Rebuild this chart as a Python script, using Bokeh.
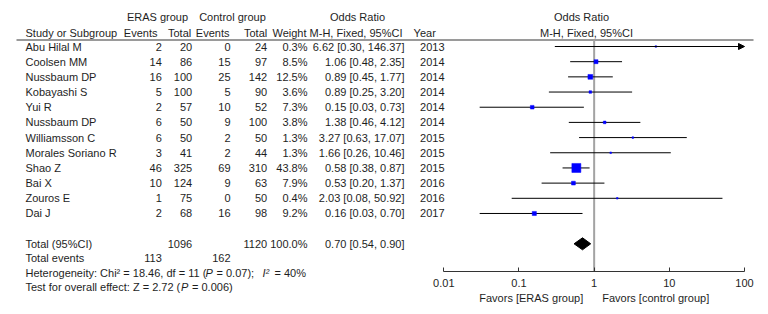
import math
from bokeh.plotting import figure
from bokeh.models import (ColumnDataSource, Range1d, LogScale, LogAxis, FixedTicker,
                          CustomJSTickFormatter, Arrow, NormalHead)
from bokeh.core.properties import value
from bokeh.embed import file_html
from bokeh.resources import INLINE

# ---------------- data ----------------
studies = ["Abu Hilal M", "Coolsen MM", "Nussbaum DP", "Kobayashi S", "Yui R", "Nussbaum DP",
           "Williamsson C", "Morales Soriano R", "Shao Z", "Bai X", "Zouros E", "Dai J"]
eras_events = [2, 14, 16, 5, 2, 6, 6, 3, 46, 10, 1, 2]
eras_total = [20, 86, 100, 100, 57, 50, 50, 41, 325, 124, 75, 68]
ctrl_events = [0, 15, 25, 5, 10, 9, 2, 2, 69, 9, 0, 16]
ctrl_total = [24, 97, 142, 90, 52, 100, 50, 44, 310, 63, 50, 98]
weights = [0.3, 8.5, 12.5, 3.6, 7.3, 3.8, 1.3, 1.3, 43.8, 7.9, 0.4, 9.2]
or_est = [6.62, 1.06, 0.89, 0.89, 0.15, 1.38, 3.27, 1.66, 0.58, 0.53, 2.03, 0.16]
or_lo = [0.30, 0.48, 0.45, 0.25, 0.03, 0.46, 0.63, 0.26, 0.38, 0.20, 0.08, 0.03]
or_hi = [146.37, 2.35, 1.77, 3.20, 0.73, 4.12, 17.07, 10.46, 0.87, 1.37, 50.92, 0.70]
years = [2013, 2014, 2014, 2014, 2014, 2014, 2015, 2015, 2015, 2016, 2016, 2017]

total_eras_n = 1096
total_ctrl_n = 1120
total_weight = 100.0
total_est, total_lo, total_hi = 0.70, 0.54, 0.90
total_eras_events = 113
total_ctrl_events = 162
het_chi2, het_df, het_p, het_i2 = 18.46, 11, 0.07, 40
z_value, z_p = 2.72, 0.006

axis_ticks = [0.01, 0.1, 1, 10, 100]
favors_left = "Favors [ERAS group]"
favors_right = "Favors [control group]"

# ---------------- layout ----------------
W, H = 760, 306
FONT_NAME = "Liberation Sans"
FONT = value(FONT_NAME)
FS = "11px"
TC = "#1e1e1e"

# log axis mapping: 0.01 at x 443.3, 100 at x 744
dec = (744.0 - 443.3) / 4.0
lo_log = -2 - 443.3 / dec
hi_log = 2 + (W - 744.0) / dec

p = figure(width=W, height=H, x_range=Range1d(0, W), y_range=Range1d(H, 0),
           x_axis_type=None, y_axis_type=None, toolbar_location=None,
           output_backend="svg", min_border_left=0, min_border_right=0,
           min_border_top=0, min_border_bottom=0)
p.outline_line_color = None
p.background_fill_color = "white"
p.extra_x_ranges = {"or": Range1d(10 ** lo_log, 10 ** hi_log)}
p.extra_x_scales = {"or": LogScale()}

n = len(studies)
row0, step = 46.0, 15.18
rows = [row0 + i * step for i in range(n)]
y_total = 243.3
y_tev = 257.7
y_het = 272.0
y_test = 286.0
y_axis = 271.0
y_rule = 39.5

def text_col(x, ys, texts, align="right", style="normal"):
    src = ColumnDataSource(dict(x=[x] * len(ys), y=ys, t=texts))
    p.text(x="x", y="y", text="t", source=src, text_font=FONT, text_font_size=FS,
           text_align=align, text_baseline="middle", text_color=TC,
           text_font_style=style)

# headers
text_col(157, [16], ["ERAS group"], "center")
text_col(232, [16], ["Control group"], "center")
text_col(357, [16], ["Odds Ratio"], "center")
text_col(581, [16], ["Odds Ratio"], "center")
hy = 32.3
text_col(25, [hy], ["Study or Subgroup"], "left")
text_col(157, [hy], ["Events"])
text_col(190.7, [hy], ["Total"])
text_col(229, [hy], ["Events"])
text_col(266.7, [hy], ["Total"])
text_col(306, [hy], ["Weight"])
text_col(402, [hy], ["M-H, Fixed, 95%CI"])
text_col(435.3, [hy], ["Year"])
text_col(586, [hy], ["M-H, Fixed, 95%CI"], "center")

# header rule
p.segment(x0=[16], x1=[753], y0=[y_rule], y1=[y_rule], line_color="#9a9a9a", line_width=2)

# study rows
text_col(25, rows, studies, "left")
text_col(161.3, rows, [str(v) for v in eras_events])
text_col(191.7, rows, [str(v) for v in eras_total])
text_col(230, rows, [str(v) for v in ctrl_events])
text_col(266.7, rows, [str(v) for v in ctrl_total])
text_col(307, rows, [f"{w:.1f}%" for w in weights])
text_col(404, rows, [f"{e:.2f} [{l:.2f}, {h:.2f}]" for e, l, h in zip(or_est, or_lo, or_hi)])
text_col(444, rows, [str(y) for y in years])

# totals
text_col(25, [y_total], ["Total (95%CI)"], "left")
text_col(191.7, [y_total], [str(total_eras_n)])
text_col(266.7, [y_total], [str(total_ctrl_n)])
text_col(307, [y_total], [f"{total_weight:.1f}%"])
text_col(404, [y_total], [f"{total_est:.2f} [{total_lo:.2f}, {total_hi:.2f}]"])
text_col(25, [y_tev], ["Total events"], "left")
text_col(161.3, [y_tev], [str(total_eras_events)])
text_col(230, [y_tev], [str(total_ctrl_events)])

# heterogeneity / overall effect
text_col(25, [y_het], [f"Heterogeneity: Chi\u00b2 = {het_chi2:.2f}, df = {het_df} ("], "left")
text_col(205, [y_het], ["P"], "left", "italic")
text_col(216, [y_het], [f"= {het_p:.2f});"], "left")
text_col(262, [y_het], ["I\u00b2"], "left", "italic")
text_col(274, [y_het], [f"= {het_i2}%"], "left")
text_col(25, [y_test], [f"Test for overall effect: Z = {z_value:.2f} ("], "left")
text_col(180.5, [y_test], ["P"], "left", "italic")
text_col(191.5, [y_test], [f"= {z_p})"], "left")
text_col(582.7, [297.7], [favors_left], "right")
text_col(601.7, [297.7], [favors_right], "left")

# reference line at OR = 1
p.segment(x0=[1], x1=[1], y0=[y_rule], y1=[y_axis], x_range_name="or",
          line_color="#a3a3a3", line_width=2)

# confidence intervals
axis_max = axis_ticks[-1]
seg_idx = [i for i in range(n) if or_hi[i] <= axis_max]
arr_idx = [i for i in range(n) if or_hi[i] > axis_max]
p.segment(x0=[or_lo[i] for i in seg_idx], x1=[or_hi[i] for i in seg_idx],
          y0=[rows[i] for i in seg_idx], y1=[rows[i] for i in seg_idx],
          x_range_name="or", line_color="black", line_width=1)
for i in arr_idx:
    p.add_layout(Arrow(end=NormalHead(size=6, fill_color="black", line_color="black"),
                       x_start=or_lo[i], x_end=axis_max, y_start=rows[i], y_end=rows[i],
                       x_range_name="or", line_color="black", line_width=1))

# weight squares
sizes = [max(1.6, 1.36 * math.sqrt(w)) for w in weights]
p.scatter(x=or_est, y=rows, size=sizes, marker="square", x_range_name="or",
          fill_color="#0000ff", line_color="#0000ff", line_width=0.5)

# pooled diamond
p.patch(x=[total_lo, total_est, total_hi, total_est],
        y=[y_total, y_total - 6, y_total, y_total + 6],
        x_range_name="or", fill_color="black", line_color="black")

# axis (fixed inside the frame)
ax = LogAxis(x_range_name="or", bounds=(axis_ticks[0], axis_ticks[-1]),
             ticker=FixedTicker(ticks=axis_ticks, minor_ticks=[]),
             formatter=CustomJSTickFormatter(code="return String(tick)"),
             fixed_location=y_axis)
ax.axis_line_color = "#333333"
ax.major_tick_line_color = "#333333"
ax.major_tick_in = 4
ax.major_tick_out = 0
ax.minor_tick_in = 0
ax.minor_tick_out = 0
ax.major_label_standoff = 7
ax.major_label_text_font = FONT_NAME
ax.major_label_text_font_size = FS
ax.major_label_text_color = TC
p.add_layout(ax, "below")

open("out.html", "w").write(file_html(p, INLINE))
